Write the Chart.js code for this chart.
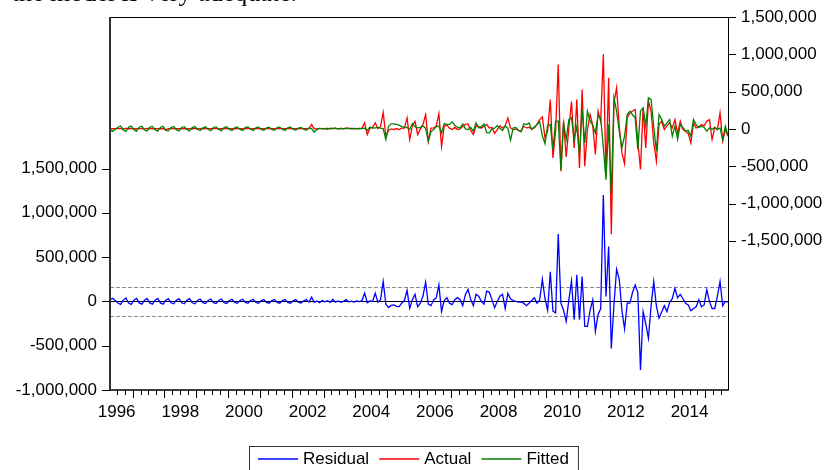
<!DOCTYPE html>
<html>
<head>
<meta charset="utf-8">
<script src="https://cdn.jsdelivr.net/npm/chart.js@4.4.0/dist/chart.umd.min.js"></script>
<style>
  html, body { margin: 0; padding: 0; background: #fff; }
  #wrap { position: relative; width: 827px; height: 470px; overflow: hidden; }
  #wrap canvas { position: absolute; left: 0; top: 0; }
  #note { position: absolute; right: 530px; top: -20px; font: 26px "Liberation Serif", "Times New Roman", serif;
          line-height: 26px; white-space: nowrap; color: #000; }
</style>
</head>
<body>
<div id="wrap">
  <canvas id="canvasResidualPlot" width="827" height="470"></canvas>
  <div id="note">the model is very adequate.</div>
</div>
<script>
// monthly observations 1996M04 .. 2015M09, values in thousands
const firstYear = 1996;
const firstMonth = 4;

const residual = [
  15, 35, 10, -19, -34, 15, 38, -19, -34,
  14, 34, -17, -31, 14, 34, -17, -31, 14, 34, -17, -31,
  12, 30, -15, -27, 12, 30, -15, -27, 12, 30, -15, -27,
  11, 27, -14, -24, 11, 27, -14, -24, 11, 27, -14, -24,
  10, 24, -12, -22, 10, 24, -12, -22, 10, 24, -12, -22,
  9, 22, -11, -20, 9, 22, -11, -20, 9, 22, -11, -20,
  8, 20, -10, -18, 8, 20, -10, 47, -10, 5, -15, 10,
  -5, 8, -12, 25, -8, 5, -10, 0, 20, -5, 2, -8,
  5, -3, 10, 93, -14, 5, 0, 93, -10, 20, 224, -30,
  -70, -45, -40, -55, -58, -20, 10, 125, -77, 20, 80, -59,
  -20, 60, 217, -31, -48, 17, 40, 186, -115, 10, 42, -20,
  -37, 20, 42, 19, -48, 79, 136, 20, -48, 79, 60, 0,
  -31, 117, 105, 20, -71, 0, 60, 79, -82, 90, 30, 10,
  0, -7, -7, -20, -48, -20, 10, 42, -20, 17, 250, 30,
  -100, 333, -110, -130, 760, -20, -100, -225, 17, 230, -206, 300,
  -206, 282, -282, -282, -100, 17, -338, -150, -80, 1200, 55, 620,
  -530, -37, 364, 250, -100, -311, -20, -20, 100, 186, 100, -774,
  -115, -250, -416, -50, 224, -50, -190, -120, -48, -115, -10, 30,
  147, 40, 80, 30, -20, -40, -105, -80, -60, 20, -60, -40,
  130, 0, -80, -80, 60, 225, -50, 0, -7
];

const actual = [
  4, 2, 5, 3, 4, 1, 6, 2, 3,
  4, 2, 5, 3, 1, 6, 3, 2, 4, 5, 2, 3,
  -8, 4, 3, 5, 2, 3, 4, 2, 5, 3, 2, 4,
  3, 5, 2, 4, 3, 2, 5, 3, 4, 2, 3, 5,
  3, 4, 2, 5, 3, 2, 4, 3, 5, 2, 3, 4,
  2, 5, 3, 4, 2, 3, 5, 3, 4, 2, 3, 5,
  3, 4, 2, 3, 5, 3, 4, 58, 0, 0, 3, 5,
  2, 6, 0, 10, 4, 3, 5, 0, 12, 3, 6, 2,
  5, 8, 10, 80, -76, 10, 20, 80, 5, 30, 222, -99,
  -20, 0, -9, 5, -10, 10, 10, 147, -143, 44, 102, -76,
  0, 60, 192, -166, 10, 13, 40, 205, -233, 35, 50, 10,
  -9, 20, -9, 0, 35, 60, 67, -20, -76, 40, 30, 10,
  35, 60, 13, 20, -60, -9, 40, 13, 40, 147, 13, -9,
  0, -20, -30, 35, 13, 20, 0, 13, 60, 125, 161, -121,
  -30, 394, -389, -30, 863, -568, 103, -376, 13, 367, -255, 394,
  -523, 527, -501, -9, 192, 50, -344, 237, 100, 1000, -620, 684,
  -1413, 349, 550, 36, -322, -465, 148, 215, 240, 260, -165, -545,
  282, -255, 371, 237, -188, -434, 58, 103, -9, 40, 80, 13,
  125, -60, 103, -9, -31, -60, -188, 80, 13, 30, 58, 40,
  103, 125, -143, 20, -9, 215, -165, -9, -98
];

const fitted = [
  -11, -33, -5, 22, 38, -14, -32, 21, 37,
  -10, -32, 22, 34, -13, -28, 20, 33, -10, -29, 19, 34,
  -20, -26, 18, 32, -10, -27, 19, 29, -7, -27, 17, 31,
  -8, -22, 16, 28, -8, -25, 19, 27, -7, -25, 17, 29,
  -7, -20, 14, 27, -7, -22, 16, 25, -5, -22, 15, 26,
  -7, -17, 14, 24, -7, -19, 16, 23, -5, -20, 14, 25,
  -5, -16, 12, 21, -3, -17, 14, 5, -45, -10, 10, 0,
  8, -5, 10, 0, 12, -2, 8, 3, 5, 10, 0, 8,
  4, 2, 5, 10, -20, 25, 10, 15, 20, 10, 5, -143,
  30, 67, 67, 60, 50, 30, 25, 20, -9, 71, 30, 13,
  20, 40, 10, -166, -40, -9, 30, 40, -54, 71, 60, 60,
  94, 50, 20, 13, 67, 0, -9, 20, -32, 80, 13, 30,
  67, -50, -54, 0, 10, 44, 10, -20, 40, 10, -152, 13,
  20, -20, -40, 67, 58, 80, -9, 27, 60, 94, -90, -197,
  50, 58, -280, 103, 103, -546, 80, -143, 125, 148, -143, 36,
  -344, 260, -188, 237, 103, 50, -54, 179, 150, -250, -680, 58,
  -880, 416, 237, -31, -255, -98, 192, 237, 190, 148, -277, 237,
  282, 36, 416, 394, 36, -300, 192, 125, 36, 80, 125, -98,
  36, -143, 58, 20, -31, -20, -98, 125, 58, 20, 36, 20,
  -31, 13, -9, 20, -9, 13, -143, 36, -90
];

const yearLabels = [1996, 1998, 2000, 2002, 2004, 2006, 2008, 2010, 2012, 2014];
const leftTicks = [-1000000, -500000, 0, 500000, 1000000, 1500000];
const rightTicks = [-1500000, -1000000, -500000, 0, 500000, 1000000, 1500000];
const residualSE = 160000;

const axisFont = { family: '"Liberation Sans", Arial, sans-serif', size: 17 };
const monthOffset = firstMonth - 1;

function toPoints(values)
{
    return values.map((v, i) => ({ x: monthOffset + i, y: v * 1000 }));
}

function strokeLine(ctx, x1, y1, x2, y2)
{
    ctx.beginPath();
    ctx.moveTo(x1, y1);
    ctx.lineTo(x2, y2);
    ctx.stroke();
}

// fixed axis boxes so the plot frame lands where the original one is
function fixWidth(w)
{
    return s => { s.width = w; s.paddingTop = 0; s.paddingBottom = 0; };
}

const residualFrame = {
    id: 'residualFrame',
    beforeDatasetsDraw(chart) {
        const { ctx, chartArea: a } = chart;
        const yL = chart.scales.yL;
        ctx.save();
        ctx.strokeStyle = '#000';
        ctx.lineWidth = 1;
        const y0 = Math.round(yL.getPixelForValue(0)) + 0.5;
        strokeLine(ctx, a.left, y0, a.right, y0);
        ctx.strokeStyle = '#8c8c8c';
        ctx.setLineDash([4, 2]);
        [residualSE, -residualSE].forEach(v => {
            const y = Math.round(yL.getPixelForValue(v)) + 0.5;
            strokeLine(ctx, a.left, y, a.right, y);
        });
        ctx.restore();
    },
    afterDraw(chart) {
        const { ctx, chartArea: a } = chart;
        const x = chart.scales.x, yL = chart.scales.yL, yR = chart.scales.yR;
        ctx.save();

        // frame
        ctx.strokeStyle = '#000';
        ctx.lineWidth = 1;
        strokeLine(ctx, a.left, a.top + 0.5, a.right, a.top + 0.5);
        strokeLine(ctx, a.right + 0.5, a.top, a.right + 0.5, a.bottom);
        ctx.lineWidth = 1.5;
        strokeLine(ctx, a.left, a.bottom, a.right + 1, a.bottom);
        ctx.strokeStyle = '#333';
        ctx.lineWidth = 2;
        strokeLine(ctx, a.left, a.top, a.left, a.bottom + 1);

        // tick marks
        ctx.strokeStyle = '#000';
        ctx.lineWidth = 1;
        for (let m = 2.5; m <= x.max; m += 3) {
            if (m < x.min) continue;
            const px = Math.round(x.getPixelForValue(m)) + 0.5;
            const len = (m + 0.5) % 12 === 0 ? 8 : 5;
            strokeLine(ctx, px, a.bottom, px, a.bottom + len);
        }
        leftTicks.forEach(v => {
            const py = Math.round(yL.getPixelForValue(v)) + 0.5;
            strokeLine(ctx, a.left - 8, py, a.left, py);
        });
        rightTicks.forEach(v => {
            const py = Math.round(yR.getPixelForValue(v)) + 0.5;
            strokeLine(ctx, a.right, py, a.right + 8, py);
        });

        // legend box
        ctx.font = '17px "Liberation Sans", Arial, sans-serif';
        ctx.textBaseline = 'middle';
        const items = chart.data.datasets.map(d => ({ label: d.label, color: d.borderColor }));
        const lineLen = 40, gapText = 5, gapItem = 10, pad = 9;
        let total = pad * 2 - gapItem;
        items.forEach(it => { total += lineLen + gapText + ctx.measureText(it.label).width + gapItem; });
        let cx = Math.round(chart.width / 2 - total / 2);
        const boxTop = 446.5, cy = 459;
        ctx.strokeStyle = '#333';
        ctx.lineWidth = 1;
        ctx.strokeRect(cx + 0.5, boxTop, total, 40);
        cx += pad;
        items.forEach(it => {
            ctx.strokeStyle = it.color;
            ctx.lineWidth = 1.3;
            strokeLine(ctx, cx, cy, cx + lineLen, cy);
            cx += lineLen + gapText;
            ctx.fillStyle = '#000';
            ctx.fillText(it.label, cx, cy);
            cx += ctx.measureText(it.label).width + gapItem;
        });
        ctx.restore();
    }
};

function drawResidualPlot()
{
    const ctx = document.getElementById('canvasResidualPlot').getContext('2d');
    const lineStyle = { borderWidth: 1.3, pointRadius: 0, tension: 0, fill: false };

    new Chart(ctx, {
        type: 'line',
        data: {
            datasets: [
                { label: 'Residual', data: toPoints(residual), yAxisID: 'yL', borderColor: '#0000ff', order: 0, ...lineStyle },
                { label: 'Actual', data: toPoints(actual), yAxisID: 'yR', borderColor: '#ff0000', order: 2, ...lineStyle },
                { label: 'Fitted', data: toPoints(fitted), yAxisID: 'yR', borderColor: '#008000', order: 1, ...lineStyle }
            ]
        },
        options: {
            responsive: false,
            animation: false,
            layout: { padding: { top: 17, bottom: 30, left: 0, right: 0 } },
            plugins: { legend: { display: false }, tooltip: { enabled: false } },
            scales: {
                x: {
                    type: 'linear',
                    min: monthOffset,
                    max: monthOffset + residual.length - 1,
                    grid: { display: false, drawTicks: false },
                    border: { display: false },
                    ticks: {
                        autoSkip: false, maxRotation: 0, padding: 12, color: '#000', font: axisFont,
                        callback: v => String(firstYear + Math.floor(v / 12))
                    },
                    afterBuildTicks: s => { s.ticks = yearLabels.map(y => ({ value: (y - firstYear) * 12 + 5.5 })); },
                    afterFit: s => { s.height = 50; s.paddingLeft = 0; s.paddingRight = 0; }
                },
                yL: {
                    type: 'linear',
                    position: 'left',
                    min: -1000000,
                    max: 3210000,
                    grid: { display: false, drawTicks: false },
                    border: { display: false },
                    ticks: { padding: 13, color: '#000', font: axisFont, callback: v => v.toLocaleString('en-US') },
                    afterBuildTicks: s => { s.ticks = leftTicks.map(v => ({ value: v })); },
                    afterFit: fixWidth(110)
                },
                yR: {
                    type: 'linear',
                    position: 'right',
                    min: -3500000,
                    max: 1500000,
                    grid: { display: false, drawTicks: false },
                    border: { display: false },
                    ticks: { padding: 13, color: '#000', font: axisFont, callback: v => v.toLocaleString('en-US') },
                    afterBuildTicks: s => { s.ticks = rightTicks.map(v => ({ value: v })); },
                    afterFit: fixWidth(99)
                }
            }
        },
        plugins: [residualFrame]
    });
}

drawResidualPlot();
</script>
</body>
</html>
